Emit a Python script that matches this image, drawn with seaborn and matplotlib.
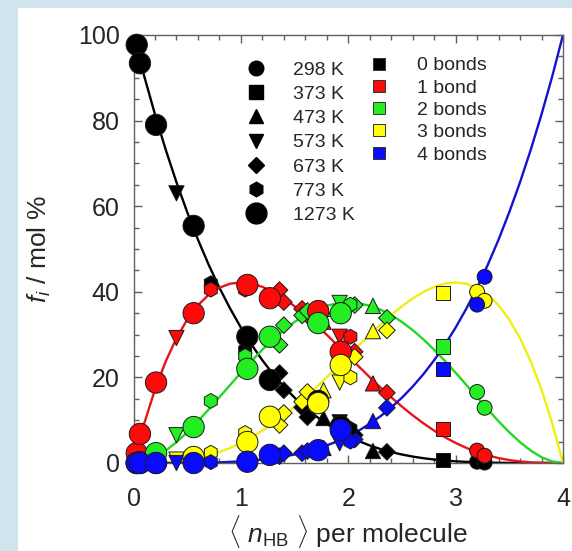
import numpy as np
import pandas as pd
import matplotlib
matplotlib.use("Agg")
import matplotlib.pyplot as plt
from matplotlib.lines import Line2D
from matplotlib.patches import Rectangle
import seaborn as sns

# ---------------- data ----------------
bond_labels = ["0 bonds", "1 bond", "2 bonds", "3 bonds", "4 bonds"]
temp_labels = ["298 K", "373 K", "473 K", "573 K", "673 K", "773 K", "1273 K"]

# model curves, n_HB = 0.0, 0.1, ... 4.0
curve_n = [0.0, 0.1, 0.2, 0.3, 0.4, 0.5, 0.6, 0.7, 0.8, 0.9,
           1.0, 1.1, 1.2, 1.3, 1.4, 1.5, 1.6, 1.7, 1.8, 1.9,
           2.0, 2.1, 2.2, 2.3, 2.4, 2.5, 2.6, 2.7, 2.8, 2.9,
           3.0, 3.1, 3.2, 3.3, 3.4, 3.5, 3.6, 3.7, 3.8, 3.9, 4.0]
curve_0 = [100.0, 90.37, 81.45, 73.21, 65.61, 58.62, 52.20, 46.33, 40.96, 36.08,
           31.64, 27.63, 24.01, 20.76, 17.85, 15.26, 12.96, 10.93, 9.15, 7.60,
           6.25, 5.09, 4.10, 3.26, 2.56, 1.98, 1.50, 1.12, 0.81, 0.57,
           0.39, 0.26, 0.16, 0.09, 0.05, 0.02, 0.01, 0.003, 0.0, 0.0, 0.0]
curve_1 = [0.0, 9.27, 17.15, 23.74, 29.16, 33.50, 36.85, 39.31, 40.96, 41.89,
           42.19, 41.92, 41.16, 39.98, 38.45, 36.62, 34.56, 32.32, 29.95, 27.49,
           25.00, 22.51, 20.05, 17.66, 15.36, 13.18, 11.15, 9.27, 7.56, 6.03,
           4.69, 3.53, 2.56, 1.77, 1.15, 0.68, 0.36, 0.156, 0.05, 0.006, 0.0]
curve_2 = [0.0, 0.356, 1.35, 2.89, 4.86, 7.18, 9.75, 12.51, 15.36, 18.24,
           21.09, 23.85, 26.46, 28.88, 31.05, 32.96, 34.56, 35.83, 36.75, 37.31,
           37.50, 37.31, 36.75, 35.83, 34.56, 32.96, 31.05, 28.88, 26.46, 23.85,
           21.09, 18.24, 15.36, 12.51, 9.75, 7.18, 4.86, 2.89, 1.35, 0.356, 0.0]
curve_3 = [0.0, 0.006, 0.05, 0.156, 0.36, 0.68, 1.15, 1.77, 2.56, 3.53,
           4.69, 6.03, 7.56, 9.27, 11.15, 13.18, 15.36, 17.66, 20.05, 22.51,
           25.00, 27.49, 29.95, 32.32, 34.56, 36.62, 38.45, 39.98, 41.16, 41.92,
           42.19, 41.89, 40.96, 39.31, 36.85, 33.50, 29.16, 23.74, 17.15, 9.27, 0.0]
curve_4 = [0.0, 0.0, 0.0, 0.003, 0.01, 0.02, 0.05, 0.09, 0.16, 0.26,
           0.39, 0.57, 0.81, 1.12, 1.50, 1.98, 2.56, 3.26, 4.10, 5.09,
           6.25, 7.60, 9.15, 10.93, 12.96, 15.26, 17.85, 20.76, 24.01, 27.63,
           31.64, 36.08, 40.96, 46.33, 52.20, 58.62, 65.61, 73.21, 81.45, 90.37, 100.0]

# simulation points: temperature, <n_HB>, fraction with 0..4 bonds (mol %)
pt_temp = ["298 K", "298 K",
           "373 K",
           "473 K", "473 K",
           "573 K", "573 K",
           "673 K", "673 K", "673 K", "673 K", "673 K", "673 K",
           "773 K", "773 K", "773 K",
           "1273 K", "1273 K", "1273 K", "1273 K", "1273 K", "1273 K", "1273 K", "1273 K"]
pt_n = [3.20, 3.27,
        2.88,
        1.77, 2.23,
        0.40, 1.92,
        1.36, 1.40, 1.57, 1.62, 2.06, 2.36,
        0.72, 1.04, 2.02,
        0.03, 0.06, 0.21, 0.56, 1.06, 1.27, 1.72, 1.93]
pt_f0 = [0.3, 0.1,
         0.7,
         10.5, 2.8,
         63.0, 9.5,
         21.0, 17.0, 13.0, 10.7, 6.5, 2.6,
         42.0, 26.4, 8.0,
         97.7, 93.4, 79.0, 55.4, 29.5, 19.4, 14.5, 8.5]
pt_f1 = [2.9, 1.7,
         8.0,
         33.0, 18.6,
         29.2, 29.5,
         40.4, 37.6, 36.0, 34.5, 26.0, 16.4,
         40.5, 40.5, 29.5,
         2.3, 6.8, 18.8, 35.0, 41.6, 38.5, 35.5, 26.0]
pt_f2 = [16.6, 12.9,
         27.2,
         36.0, 36.7,
         6.5, 37.4,
         27.6, 32.2, 34.5, 35.5, 36.9, 33.9,
         14.5, 25.0, 37.0,
         0.0, 0.2, 2.3, 8.4, 22.0, 29.5, 32.7, 35.0]
pt_f3 = [40.0, 37.9,
         39.7,
         17.0, 30.8,
         0.8, 18.8,
         8.9, 11.7, 14.3, 16.6, 24.8, 31.0,
         2.4, 7.0, 20.0,
         0.0, 0.0, 0.0, 1.4, 4.9, 10.8, 14.0, 22.9]
pt_f4 = [37.0, 43.5,
         22.0,
         3.5, 9.8,
         0.0, 4.6,
         1.6, 2.3, 2.3, 2.8, 5.5, 12.9,
         0.2, 0.8, 5.0,
         0.0, 0.0, 0.0, 0.0, 0.3, 1.9, 3.0, 7.7]

x_ticks = [0, 1, 2, 3, 4]
y_ticks = [0, 20, 40, 60, 80, 100]

# ---------------- styles ----------------
line_colors = ["#000000", "#e8141b", "#22d822", "#f2ee10", "#1212d0"]
mark_colors = ["#000000", "#ff0a0a", "#22ee22", "#ffff00", "#0a0aff"]
temp_marker = {"298 K": "o", "373 K": "s", "473 K": "^", "573 K": "v",
               "673 K": "D", "773 K": "h", "1273 K": "o"}
temp_size = {"298 K": 115, "373 K": 105, "473 K": 120, "573 K": 120,
             "673 K": 72, "773 K": 115, "1273 K": 235}
temp_msize = {"298 K": 10.5, "373 K": 10, "473 K": 10.5, "573 K": 10.5,
              "673 K": 8.5, "773 K": 10.5, "1273 K": 15}

sns.set_theme(style="ticks")
plt.rcParams["font.family"] = ["Liberation Sans", "DejaVu Sans"]
plt.rcParams["mathtext.fontset"] = "custom"
plt.rcParams["mathtext.rm"] = "Liberation Sans"
plt.rcParams["mathtext.it"] = "Liberation Sans:italic"

fig = plt.figure(figsize=(5.72, 5.51), dpi=100, facecolor="#cfe4ec")
fig.patches.append(Rectangle((18 / 572, 0), 1 - 18 / 572, 1 - 8 / 551,
                             transform=fig.transFigure, facecolor="white",
                             edgecolor="none", zorder=-10))
ax = fig.add_axes([133.5 / 572, 88 / 551, 429.5 / 572, 428 / 551])
ax.set_zorder(5)
ax.set_facecolor("white")

# curves
curves = pd.DataFrame({"n": curve_n, "0 bonds": curve_0, "1 bond": curve_1,
                       "2 bonds": curve_2, "3 bonds": curve_3, "4 bonds": curve_4})
for lab, col in zip(bond_labels, line_colors):
    sns.lineplot(data=curves, x="n", y=lab, color=col, lw=1.7, ax=ax,
                 zorder=2, legend=False)

# points
pts = pd.DataFrame({"T": pt_temp, "n": pt_n, "0 bonds": pt_f0, "1 bond": pt_f1,
                    "2 bonds": pt_f2, "3 bonds": pt_f3, "4 bonds": pt_f4})
long = pts.melt(id_vars=["T", "n"], value_vars=bond_labels,
                var_name="bond", value_name="f")
pal = dict(zip(bond_labels, mark_colors))
for i, T in enumerate(temp_labels):
    sub = long[long["T"] == T]
    sns.scatterplot(data=sub, x="n", y="f", hue="bond", palette=pal,
                    hue_order=bond_labels, marker=temp_marker[T],
                    s=temp_size[T], edgecolor="#1a1a1a", linewidth=0.7,
                    legend=False, ax=ax, zorder=3 + i, clip_on=False)

# axes
ax.set_xlim(0, 4)
ax.set_ylim(0, 100)
ax.set_xticks(x_ticks)
ax.set_yticks(y_ticks)
ax.set_xticks(np.arange(0, 4.01, 0.2), minor=True)
ax.set_yticks(np.arange(0, 100.1, 5), minor=True)
ax.tick_params(which="both", direction="in", top=True, right=True,
               color="#606060", width=1.0)
ax.tick_params(which="major", length=6, labelsize=18)
ax.tick_params(which="minor", length=3.5)
ax.tick_params(axis="x", which="major", pad=17)
ax.tick_params(axis="y", which="major", pad=10)
for sp in ax.spines.values():
    sp.set_color("#606060")
    sp.set_linewidth(1.0)
ax.set_xlabel(r"$\langle\ n_{\mathrm{HB}}\ \rangle$ per molecule", fontsize=19,
              labelpad=2)
ax.set_ylabel(r"$f_i$ / mol %", fontsize=19, labelpad=18)

# legends
th = [Line2D([], [], ls="none", marker=temp_marker[T], color="black",
             markersize=temp_msize[T]) for T in temp_labels]
leg1 = ax.legend(th, temp_labels, loc="upper left", bbox_to_anchor=(0.262, 0.939),
                 frameon=False, fontsize=14, handlelength=1.0, handletextpad=1.4,
                 labelspacing=0.34, borderpad=0, borderaxespad=0)
ax.add_artist(leg1)
bh = [Line2D([], [], ls="none", marker="s", markerfacecolor=c,
             markeredgecolor="#333333", markeredgewidth=0.7, markersize=9)
      for c in mark_colors]
ax.legend(bh, bond_labels, loc="upper left", bbox_to_anchor=(0.549, 0.949),
          frameon=False, fontsize=14, handlelength=1.0, handletextpad=1.45,
          labelspacing=0.24, borderpad=0, borderaxespad=0)

fig.savefig("out.png", dpi=100, facecolor=fig.get_facecolor())
